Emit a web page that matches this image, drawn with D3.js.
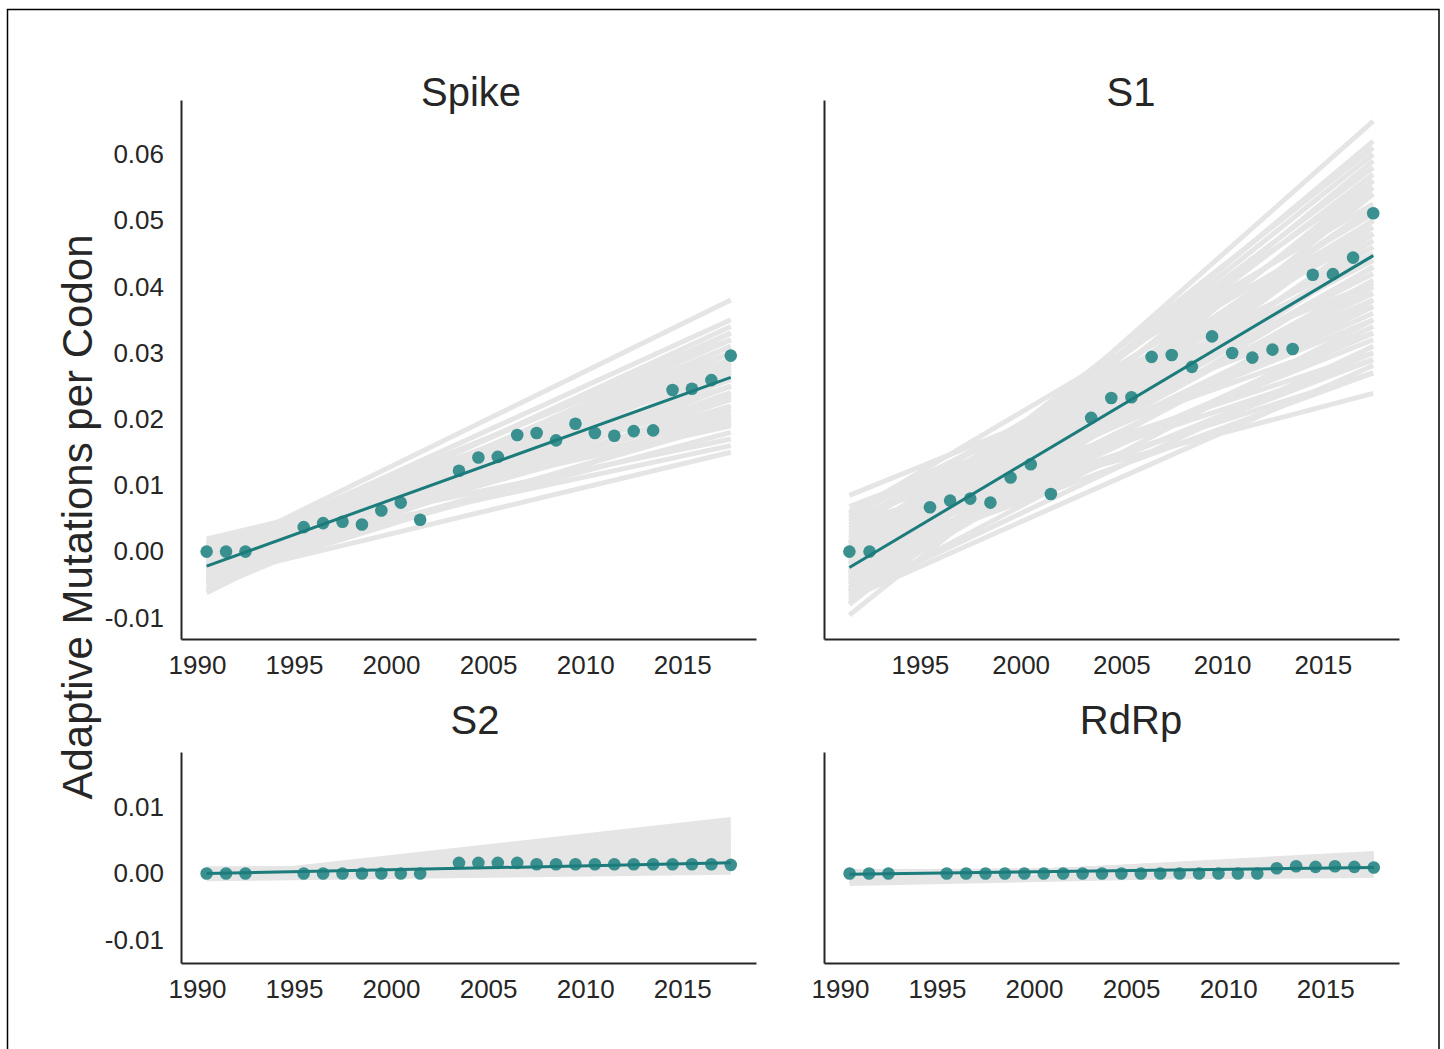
<!DOCTYPE html>
<html><head><meta charset="utf-8">
<script src="https://cdn.jsdelivr.net/npm/d3@7"></script>
<style>
body{margin:0;background:#fff}
text{font-family:"Liberation Sans",Arial,Helvetica,sans-serif;fill:#262626}
</style>
</head><body>
<svg id="c" width="1444" height="1049"></svg>
<script>
// ---------------- DATA ----------------
const xTickYears = [1990, 1995, 2000, 2005, 2010, 2015];
const yTicksTop = [-0.01, 0.00, 0.01, 0.02, 0.03, 0.04, 0.05, 0.06];
const yTicksBottom = [-0.01, 0.00, 0.01];
const yearOffset = 0.5; // points plotted at mid-year

const spikeYears = [1990,1991,1992,1995,1996,1997,1998,1999,2000,2001,2003,2004,2005,2006,2007,2008,2009,2010,2011,2012,2013,2014,2015,2016,2017];
const spikeValues = [0,0,0,0.0037,0.0043,0.0045,0.0041,0.0062,0.0074,0.0048,0.0122,0.0142,0.0143,0.0176,0.0179,0.0168,0.0193,0.0179,0.0175,0.0182,0.0183,0.0244,0.0246,0.0259,0.0296];
const spikeFit = [-0.0022, 0.0263];
const spikeBootStart = [0.0019,0.0015,0.0010,0.0005,0.0000,-0.0008,-0.0010,-0.0015,-0.0020,-0.0025,-0.0030,-0.0035,-0.0040,-0.0045,-0.0050,-0.0055,-0.0062,-0.0030,-0.0020,0.0005,-0.0012,-0.0025,-0.0040,0.0012,-0.0005,
                        0.0008,-0.0002,-0.0018,-0.0028,-0.0038,-0.0048,-0.0008,0.0000,-0.0015,-0.0035,-0.0022,0.0003,-0.0045,-0.0058,-0.0010];
const spikeBootEnd   = [0.0208,0.0190,0.0230,0.0250,0.0270,0.0380,0.0350,0.0330,0.0310,0.0290,0.0260,0.0240,0.0150,0.0200,0.0280,0.0300,0.0330,0.0180,0.0220,0.0170,0.0260,0.0340,0.0230,0.0200,0.0300,
                        0.0215,0.0235,0.0275,0.0320,0.0285,0.0250,0.0285,0.0320,0.0205,0.0195,0.0250,0.0290,0.0310,0.0270,0.0160];

const s1Years = [1991,1992,1995,1996,1997,1998,1999,2000,2001,2003,2004,2005,2006,2007,2008,2009,2010,2011,2012,2013,2014,2015,2016,2017];
const s1Values = [0,0,0.0067,0.0077,0.0080,0.0074,0.0112,0.0132,0.0087,0.0202,0.0232,0.0233,0.0294,0.0297,0.0279,0.0325,0.0300,0.0293,0.0305,0.0306,0.0418,0.0419,0.0444,0.0511];
const s1Fit = [-0.0024, 0.0447];
const s1BootStart = [0.0085,0.0068,0.0057,0.0050,0.0045,0.0040,0.0035,0.0031,0.0030,0.0025,0.0020,0.0018,0.0015,0.0010,0.0005,0.0000,-0.0005,-0.0010,-0.0012,-0.0015,-0.0020,-0.0025,-0.0030,-0.0030,-0.0035,-0.0040,-0.0045,-0.0050,-0.0050,-0.0055,-0.0060,-0.0065,-0.0070,-0.0073,-0.0080,-0.0096,-0.0020,0.0012,-0.0020,0.0040,
                     0.0060,0.0048,0.0022,0.0008,-0.0003,-0.0008,-0.0018,-0.0028,-0.0038,-0.0042,-0.0058,-0.0062,-0.0068,-0.0078,0.0028,0.0012,-0.0012,-0.0033,0.0052,-0.0025];
const s1BootEnd   = [0.0405,0.0370,0.0525,0.0330,0.0440,0.0300,0.0480,0.0239,0.0390,0.0350,0.0500,0.0270,0.0420,0.0460,0.0320,0.0540,0.0380,0.0450,0.0290,0.0580,0.0500,0.0410,0.0600,0.0340,0.0470,0.0550,0.0620,0.0650,0.0430,0.0520,0.0590,0.0310,0.0281,0.0480,0.0560,0.0540,0.0270,0.0360,0.0370,0.0510,
                     0.0450,0.0380,0.0440,0.0400,0.0490,0.0330,0.0430,0.0520,0.0380,0.0500,0.0450,0.0400,0.0350,0.0500,0.0290,0.0560,0.0610,0.0570,0.0480,0.0300];

const s2Years = spikeYears;
const s2Values = [0,0,0,0,0,0,0,0,0,0,0.0016,0.0016,0.0016,0.0016,0.0014,0.0014,0.0014,0.0014,0.0014,0.0014,0.0014,0.0014,0.0014,0.0014,0.0013];
const s2Fit = [0.0000, 0.0016];
const s2BootStart = [-0.0007,-0.0006,-0.0005,-0.0004,-0.0003,-0.0004,-0.0002,-0.0003,-0.0001,0.0000,-0.0002,0.0001,0.0002,0.0003,0.0004,0.0005,0.0006,0.0007,0.0003,-0.0008,-0.0006,0.0000];
const s2BootEnd   = [0.0081,0.0075,0.0068,0.0062,0.0058,0.0052,0.0048,0.0044,0.0040,0.0036,0.0032,0.0030,0.0027,0.0024,0.0021,0.0018,0.0015,0.0010,0.0005,0.0002,0.0012,0.0010];

const rdrpYears = [1990,1991,1992,1995,1996,1997,1998,1999,2000,2001,2002,2003,2004,2005,2006,2007,2008,2009,2010,2011,2012,2013,2014,2015,2016,2017];
const rdrpValues = [0,0,0,0,0,0,0,0,0,0,0,0,0,0,0,0,0,0,0,0,0.0008,0.0011,0.0010,0.0011,0.0010,0.0009];
const rdrpFit = [-0.0001, 0.0009];
const rdrpBootStart = [-0.0012,-0.0010,-0.0008,-0.0006,-0.0004,-0.0002,0.0000,0.0002,0.0003,-0.0014,-0.0015,-0.0008];
const rdrpBootEnd   = [0.0030,0.0027,0.0024,0.0021,0.0018,0.0015,0.0012,0.0008,0.0004,0.0010,0.0002,-0.0003];

// ---------------- LAYOUT ----------------
const svg = d3.select("#c");
const ink = "#262626";
const teal = "#1c7b7b";
const dotFill = "#3a8f8f";
const gray = "#e5e5e5";

svg.append("rect").attr("x",7.5).attr("y",9.5).attr("width",1431.5).attr("height",1100)
  .attr("fill","none").attr("stroke","#000").attr("stroke-width",1.5);

const panels = [
  {title:"Spike", years:spikeYears, values:spikeValues, fit:spikeFit, bs:spikeBootStart, be:spikeBootEnd,
   x0:181, x1:756, y0:100, y1:639, xd:[1989.18,2018.8], yd:[-0.0132,0.0682], yt:yTicksTop, tx:471, ty:106},
  {title:"S1", years:s1Years, values:s1Values, fit:s1Fit, bs:s1BootStart, be:s1BootEnd,
   x0:824, x1:1399, y0:100, y1:639, xd:[1990.24,2018.78], yd:[-0.0132,0.0682], yt:null, tx:1131, ty:106},
  {title:"S2", years:s2Years, values:s2Values, fit:s2Fit, bs:s2BootStart, be:s2BootEnd,
   x0:181, x1:756, y0:752, y1:963, xd:[1989.18,2018.8], yd:[-0.0134,0.0182], yt:yTicksBottom, tx:475, ty:734},
  {title:"RdRp", years:rdrpYears, values:rdrpValues, fit:rdrpFit, bs:rdrpBootStart, be:rdrpBootEnd,
   x0:824, x1:1399, y0:752, y1:963, xd:[1989.18,2018.8], yd:[-0.0134,0.0182], yt:null, tx:1131, ty:734}
];

const fmtY = d => d3.format(".2f")(d).replace("\u2212", "-");

panels.forEach(p => {
  const x = d3.scaleLinear().domain(p.xd).range([p.x0, p.x1]);
  const y = d3.scaleLinear().domain(p.yd).range([p.y1, p.y0]);
  const g = svg.append("g");
  const xa = p.years[0] + yearOffset, xb = p.years[p.years.length-1] + yearOffset;

  // bootstrap lines
  g.append("g").selectAll("line").data(p.bs.map((s,i)=>[s,p.be[i]])).join("line")
    .attr("x1", x(xa)).attr("x2", x(xb))
    .attr("y1", d=>y(d[0])).attr("y2", d=>y(d[1]))
    .attr("stroke", gray).attr("stroke-width", 5);

  // points
  g.append("g").selectAll("circle").data(p.years.map((yr,i)=>[yr+yearOffset,p.values[i]])).join("circle")
    .attr("cx", d=>x(d[0])).attr("cy", d=>y(d[1])).attr("r", 6.3)
    .attr("fill", dotFill);

  // fit line
  g.append("line").attr("x1", x(xa)).attr("x2", x(xb))
    .attr("y1", y(p.fit[0])).attr("y2", y(p.fit[1]))
    .attr("stroke", teal).attr("stroke-width", 3);

  // axes
  const ax = g.append("g").attr("transform",`translate(0,${p.y1})`)
    .call(d3.axisBottom(x).tickValues(xTickYears.filter(t=>t>=p.xd[0])).tickFormat(d3.format("d")).tickSize(0).tickPadding(17));
  const ay = g.append("g").attr("transform",`translate(${p.x0},0)`)
    .call(d3.axisLeft(y).tickValues(p.yt || []).tickFormat(fmtY).tickSize(0).tickPadding(17));
  [ax, ay].forEach(a => {
    a.select(".domain").attr("stroke", ink).attr("stroke-width", 2);
    a.selectAll("text").attr("font-size", 26).attr("fill", ink)
      .style("font-family", '"Liberation Sans", Arial, sans-serif');
  });

  svg.append("text").attr("x", p.tx).attr("y", p.ty).attr("text-anchor","middle")
    .attr("font-size", 40).text(p.title);
});

svg.append("text").attr("transform","translate(92,517) rotate(-90)")
  .attr("text-anchor","middle").attr("font-size", 42).text("Adaptive Mutations per Codon");
</script>
</body></html>
